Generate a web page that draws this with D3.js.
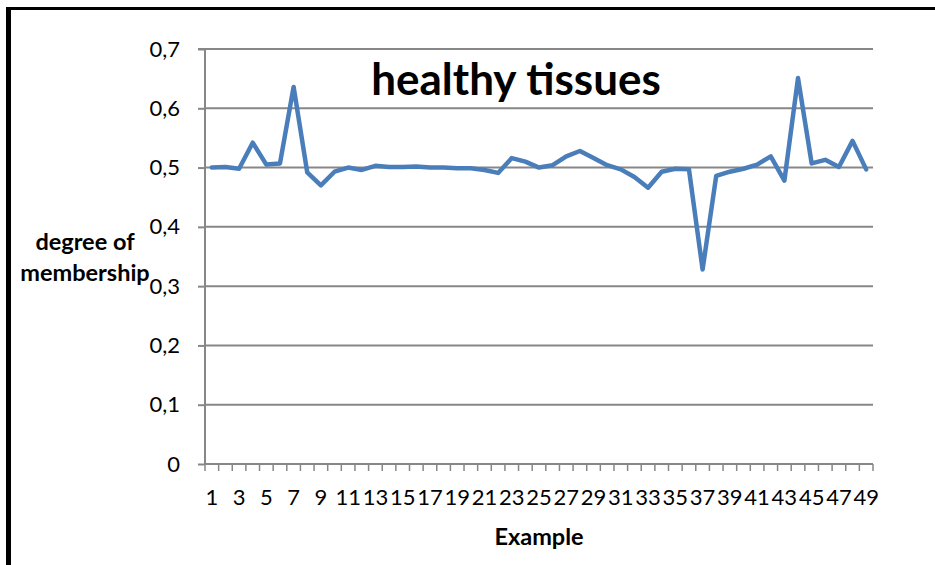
<!DOCTYPE html>
<html>
<head>
<meta charset="utf-8">
<script src="https://cdn.jsdelivr.net/npm/d3@7"></script>
<style>
  html, body { margin: 0; padding: 0; background: #fff; }
  svg { display: block; }
  text { font-family: Lato, "Open Sans", sans-serif; fill: #000; }
</style>
</head>
<body>
<svg id="chart" width="935" height="565"></svg>
<script>
const categories = d3.range(1, 50).map(String);
const membership = [
  0.500, 0.501, 0.498, 0.542, 0.505, 0.507, 0.636, 0.492, 0.470, 0.493,
  0.500, 0.496, 0.503, 0.501, 0.501, 0.502, 0.500, 0.500, 0.499, 0.499,
  0.496, 0.491, 0.516, 0.510, 0.500, 0.504, 0.519, 0.528, 0.516, 0.504,
  0.497, 0.484, 0.466, 0.493, 0.498, 0.497, 0.328, 0.486, 0.493, 0.498,
  0.505, 0.519, 0.478, 0.651, 0.507, 0.513, 0.501, 0.545, 0.497
];
const yTicks = [0, 0.1, 0.2, 0.3, 0.4, 0.5, 0.6, 0.7];
const xTickLabels = categories.filter((d, i) => i % 2 === 0);
const chartTitle = "healthy tissues";
const xTitle = "Example";
const yTitleLines = ["degree of", "membership"];

const svg = d3.select("#chart");
const pLeft = 205, pRight = 873, pTop = 49, pBottom = 464;

const x = d3.scaleBand().domain(categories).range([pLeft, pRight]).padding(0);
const y = d3.scaleLinear().domain([0, 0.7]).range([pBottom, pTop]);
const fmt = v => d3.format(".1f")(v).replace(".", ",").replace(/^0,0$/, "0");

// frame
svg.append("line").attr("x1", 7).attr("x2", 935).attr("y1", 8.5).attr("y2", 8.5)
  .attr("stroke", "#000").attr("stroke-width", 3);
svg.append("line").attr("x1", 8.5).attr("x2", 8.5).attr("y1", 7).attr("y2", 565)
  .attr("stroke", "#000").attr("stroke-width", 5);

// gridlines
svg.append("g").selectAll("line").data(yTicks.filter(d => d > 0)).join("line")
  .attr("x1", pLeft).attr("x2", pRight)
  .attr("y1", d => y(d)).attr("y2", d => y(d))
  .attr("stroke", "#878787").attr("stroke-width", 2);

// y axis
const yAxis = d3.axisLeft(y).tickValues(yTicks).tickFormat(fmt).tickSize(7).tickPadding(18);
const gy = svg.append("g").attr("transform", `translate(${pLeft},0)`).call(yAxis);
gy.select(".domain").attr("stroke", "#878787").attr("stroke-width", 2).attr("d", `M-7,${pTop}H0V${pBottom}`);
gy.selectAll(".tick line").attr("stroke", "#878787").attr("stroke-width", 2);
gy.selectAll(".tick text").style("font-family", "Lato, sans-serif").style("font-size", "22px").attr("fill", "#000");

// x axis: baseline + boundary ticks
svg.append("line").attr("x1", pLeft).attr("x2", pRight).attr("y1", pBottom).attr("y2", pBottom)
  .attr("stroke", "#878787").attr("stroke-width", 2);
const bounds = categories.map(c => x(c)).concat([pRight]);
svg.append("g").selectAll("line").data(bounds).join("line")
  .attr("x1", d => d).attr("x2", d => d).attr("y1", pBottom).attr("y2", pBottom + 7)
  .attr("stroke", "#878787").attr("stroke-width", 1.5);
svg.append("g").selectAll("text").data(xTickLabels).join("text")
  .attr("x", d => x(d) + x.bandwidth() / 2).attr("y", 505)
  .attr("text-anchor", "middle").style("font-size", "22px").text(d => d);

// line
const line = d3.line().x((d, i) => x(categories[i]) + x.bandwidth() / 2).y(d => y(d));
svg.append("path").datum(membership).attr("d", line)
  .attr("fill", "none").attr("stroke", "#4a7ebb").attr("stroke-width", 4.5)
  .attr("stroke-linejoin", "round").attr("stroke-linecap", "round");

// titles
svg.append("text").attr("x", 516).attr("y", 95).attr("text-anchor", "middle")
  .style("font-size", "44px").style("font-weight", "bold").text(chartTitle);
svg.append("text").attr("x", 539).attr("y", 545).attr("text-anchor", "middle")
  .style("font-size", "23.5px").style("font-weight", "bold").text(xTitle);
svg.append("g").selectAll("text").data(yTitleLines).join("text")
  .attr("x", 85).attr("y", (d, i) => 250 + i * 31).attr("text-anchor", "middle")
  .style("font-size", "23.5px").style("font-weight", "bold").text(d => d);
</script>
</body>
</html>
